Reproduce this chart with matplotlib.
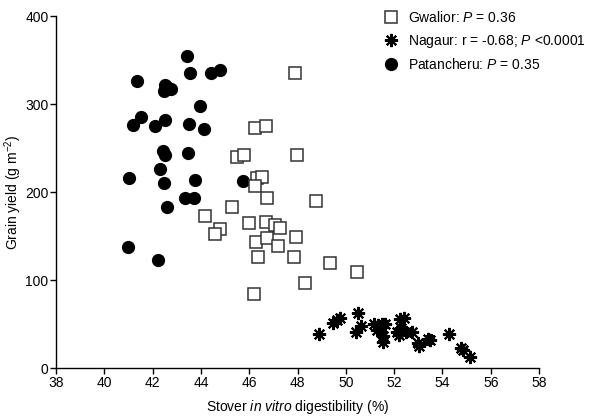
import matplotlib
matplotlib.use("Agg")
import matplotlib.pyplot as plt

plt.rcParams['font.family'] = ['Liberation Sans', 'DejaVu Sans']
plt.rcParams['mathtext.fontset'] = 'custom'
plt.rcParams['mathtext.rm'] = 'Liberation Sans'
plt.rcParams['mathtext.it'] = 'Liberation Sans:italic'

# Gwalior (open squares)
gwalior_x = [47.90, 46.22, 46.68, 45.50, 45.76, 47.99, 46.33, 46.53, 46.25, 46.75,
             48.78, 45.27, 44.16, 45.97, 46.71, 47.07, 47.26, 44.80, 44.60, 47.94,
             46.27, 46.72, 47.20, 46.37, 47.86, 49.36, 48.29, 46.18, 50.44]
gwalior_y = [335, 273, 275, 240, 242, 242, 216, 217, 207, 194,
             190, 183, 173, 165, 166, 163, 159, 158, 153, 149,
             143, 148, 139, 126, 126, 120, 97, 84, 109]

# Nagaur (asterisks)
nagaur_x = [48.90, 49.48, 49.62, 49.77, 50.52, 50.43, 50.63, 51.15, 51.33, 51.49,
            51.62, 51.27, 51.44, 51.54, 51.54, 52.11, 52.24, 52.40, 52.18, 52.28,
            52.47, 52.73, 52.99, 53.02, 53.41, 53.47, 54.26, 54.78, 54.86, 55.12]
nagaur_y = [38.6, 51.5, 54.5, 57.6, 62.5, 40.9, 47.7, 50.0, 49.2, 50.8,
            50.8, 43.9, 41.7, 36.4, 29.5, 40.9, 56.0, 56.8, 37.9, 45.5,
            40.9, 40.9, 28.8, 25.8, 33.3, 31.8, 38.6, 22.7, 21.2, 12.5]

# Patancheru (filled circles)
patancheru_x = [43.40, 43.53, 44.42, 44.77, 41.34, 42.50, 42.60, 42.75, 42.45, 43.96,
                41.52, 41.19, 42.10, 42.49, 43.49, 44.14, 42.43, 42.49, 43.48, 42.29,
                41.01, 42.48, 43.74, 45.74, 43.34, 43.70, 42.61, 40.97, 42.21]
patancheru_y = [355, 336, 336, 339, 327, 322, 320, 317, 315, 298,
                286, 276, 275, 282, 278, 272, 247, 242, 245, 226,
                216, 210, 214, 213, 193, 194, 183, 138, 123]

labels = ["Gwalior: $\\mathit{P}$ = 0.36",
          "Nagaur: r = -0.68; $\\mathit{P}$ <0.0001",
          "Patancheru: $\\mathit{P}$ = 0.35"]

fig = plt.figure(figsize=(5.97, 4.18), dpi=100)
ax = fig.add_axes([0.094, 0.119, 0.809, 0.842])

ax.plot(patancheru_x, patancheru_y, 'o', ms=8.5, color='black', mec='black', label=labels[2])
ax.plot(gwalior_x, gwalior_y, 's', ms=8, mfc='white', mec='#333333', mew=1.1, label=labels[0])
ax.plot(nagaur_x, nagaur_y, ls='none', marker=(8, 2, 0), ms=9.5, color='black', mew=1.5, label=labels[1])

ax.set_xlim(38, 58)
ax.set_ylim(0, 400)
ax.set_xticks(range(38, 59, 2))
ax.set_yticks([0, 100, 200, 300, 400])
for s in ['top', 'right']:
    ax.spines[s].set_visible(False)
for s in ['left', 'bottom']:
    ax.spines[s].set_linewidth(1.0)
ax.tick_params(direction='out', length=4, width=1, labelsize=10, pad=1.5)

ax.set_xlabel("Stover $\\mathit{in\\ vitro}$ digestibility (%)", fontsize=10, labelpad=6)
ax.set_ylabel("Grain yield (g m$^{-2}$)", fontsize=10, labelpad=1)

h, l = ax.get_legend_handles_labels()
order = [1, 2, 0]
ax.legend([h[i] for i in order], [l[i] for i in order], loc='upper left',
          bbox_to_anchor=(383 / 597, 1 - 10 / 418), bbox_transform=fig.transFigure,
          frameon=False, fontsize=10, handletextpad=0.6, handlelength=1.2,
          labelspacing=0.55, borderaxespad=0, borderpad=0)

fig.savefig("out.png", dpi=100)
